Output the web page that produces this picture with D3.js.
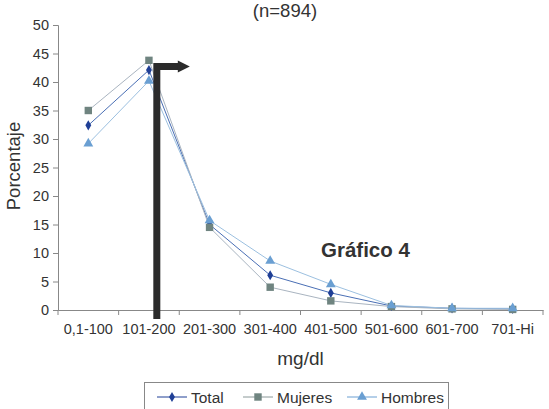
<!DOCTYPE html>
<html><head><meta charset="utf-8">
<script src="https://cdn.jsdelivr.net/npm/d3@7"></script>
<style>body{margin:0;background:#fff}svg{display:block;font-family:"Liberation Sans",Arial,sans-serif}</style>
</head><body><svg id="c" width="549" height="409"></svg>
<script>
const categories = ["0,1-100","101-200","201-300","301-400","401-500","501-600","601-700","701-Hi"];
const total   = [32.4, 42.1, 15.0, 6.1, 3.0, 0.7, 0.3, 0.2];
const mujeres = [35.0, 43.8, 14.5, 4.0, 1.6, 0.6, 0.2, 0.1];
const hombres = [29.2, 40.2, 15.7, 8.6, 4.5, 0.8, 0.3, 0.3];
const yTicks = [0,5,10,15,20,25,30,35,40,45,50];
const seriesNames = ["Total","Mujeres","Hombres"];

const svg = d3.select("#c");
const L = 58, R = 543, T = 25, B = 310;
const x = d3.scaleBand().domain(categories).range([L, R]);
const y = d3.scaleLinear().domain([0, 50]).range([B, T]);

const yAxis = svg.append("g").attr("transform", `translate(${L},0)`)
  .call(d3.axisLeft(y).tickValues(yTicks).tickSize(5).tickPadding(4));
const xAxis = svg.append("g").attr("transform", `translate(0,${B})`)
  .call(d3.axisBottom(x).tickSize(0).tickPadding(14));
const bounds = categories.map(c => x(c)).concat([R]);
xAxis.selectAll(".bt").data(bounds).enter().append("line")
  .attr("x1", d => d).attr("x2", d => d).attr("y1", 0).attr("y2", 5)
  .attr("stroke", "#888");
[yAxis, xAxis].forEach(g => {
  g.attr("font-size", null).attr("font-family", null);
  g.select(".domain").attr("stroke", "#888");
  g.selectAll(".tick line").attr("stroke", "#888");
  g.selectAll("text").attr("fill", "#333").style("font-size", "14.5px");
});

const cx = c => x(c) + x.bandwidth() / 2;
const defs = [
  {name: "Total", data: total, line: "#4a6fb5", mark: "#1f3f96", shape: d3.symbolDiamond, size: 30, lg: "#1f3f96"},
  {name: "Mujeres", data: mujeres, line: "#a9b4c0", mark: "#6f8480", shape: d3.symbolSquare, size: 55, lg: "#8a9898"},
  {name: "Hombres", data: hombres, line: "#9cc0e0", mark: "#6a9fd2", shape: d3.symbolTriangle, size: 42, lg: "#6a9fd2"}
];
const line = d3.line().x((d, i) => cx(categories[i])).y(d => y(d));
defs.forEach(s => {
  svg.append("path").attr("d", line(s.data)).attr("fill", "none").attr("stroke", s.line).attr("stroke-width", 1);
});
defs.forEach(s => {
  svg.selectAll(null).data(s.data).enter().append("path")
    .attr("d", d3.symbol().type(s.shape).size(s.size))
    .attr("transform", (d, i) => `translate(${cx(categories[i])},${y(d)})`)
    .attr("fill", s.mark);
});

// arrow annotation
const ax = x("101-200") + x.bandwidth() * 0.63;
const ay = y(42.7);
svg.append("path")
  .attr("d", `M${ax},${B + 9} L${ax},${ay} L${ax + 22},${ay}`)
  .attr("fill", "none").attr("stroke", "#2b2b2b").attr("stroke-width", 7);
svg.append("path")
  .attr("d", `M${ax + 21},${ay - 6} L${ax + 33},${ay} L${ax + 21},${ay + 6} Z`)
  .attr("fill", "#2b2b2b");

// texts
svg.append("text").attr("x", 285).attr("y", 17).attr("text-anchor", "middle")
  .attr("fill", "#333").style("font-size", "18.5px").text("(n=894)");
svg.append("text").attr("transform", `translate(20,${166}) rotate(-90)`)
  .attr("text-anchor", "middle").attr("fill", "#333").style("font-size", "18.5px").text("Porcentaje");
svg.append("text").attr("x", (L + R) / 2).attr("y", 365).attr("text-anchor", "middle")
  .attr("fill", "#333").style("font-size", "19px").text("mg/dl");
svg.append("text").attr("x", 321).attr("y", 257).attr("fill", "#333")
  .style("font-size", "20.5px").style("font-weight", "bold").text("Gráfico 4");

// legend
const lg = svg.append("g");
lg.append("rect").attr("x", 144.5).attr("y", 382.5).attr("width", 304).attr("height", 40)
  .attr("fill", "none").attr("stroke", "#888");
const lx = [157, 243, 347];
defs.forEach((s, i) => {
  const g = lg.append("g").attr("transform", `translate(${lx[i]},397)`);
  g.append("line").attr("x1", 0).attr("x2", 30).attr("stroke", s.lg).attr("stroke-width", 1);
  g.append("path").attr("d", d3.symbol().type(s.shape).size(s.size)).attr("transform", "translate(15,0)").attr("fill", s.mark);
  g.append("text").attr("x", 34).attr("y", 5.5).attr("fill", "#333").style("font-size", "15.5px").text(s.name);
});
</script></body></html>
